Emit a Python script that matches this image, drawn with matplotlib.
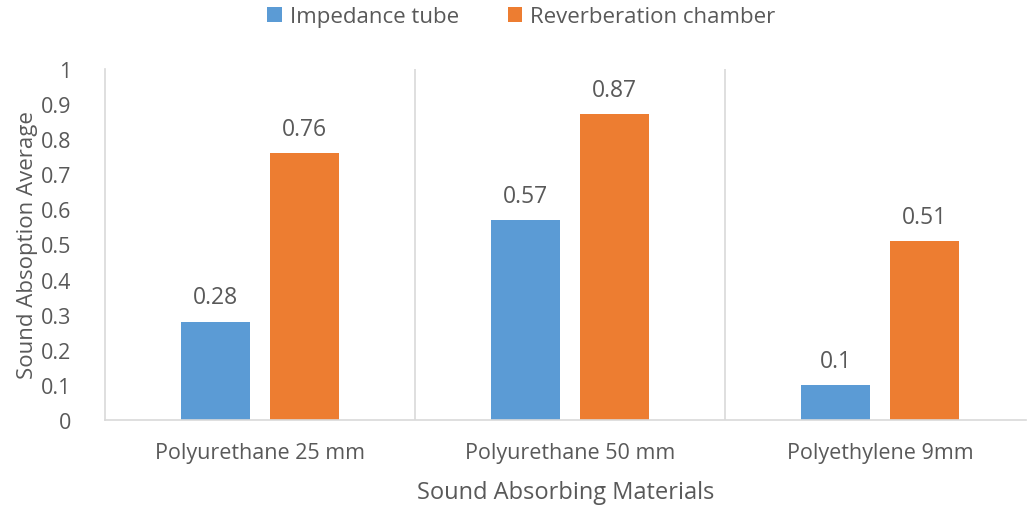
import matplotlib as mpl
mpl.use('Agg')
import matplotlib.pyplot as plt
import numpy as np

materials = ["Polyurethane 25 mm", "Polyurethane 50 mm", "Polyethylene 9mm"]
impedance = [0.28, 0.57, 0.1]
reverb = [0.76, 0.87, 0.51]

plt.rcParams['font.family'] = ['Open Sans', 'DejaVu Sans']
txt = '#595959'
grid = '#D9D9D9'

fig = plt.figure(figsize=(10.28, 5.06), dpi=100)
ax = fig.add_axes([0.102, 0.168, 0.896, 0.694])

x = np.arange(len(materials))
w = 0.222
b1 = ax.bar(x - 0.143, impedance, w, color='#5B9BD5', label='Impedance tube')
b2 = ax.bar(x + 0.143, reverb, w, color='#ED7D31', label='Reverberation chamber')

for bars, vals in ((b1, impedance), (b2, reverb)):
    for bar, v in zip(bars, vals):
        ax.text(bar.get_x() + bar.get_width() / 2, v + 0.035, "{0:g}".format(v),
                ha='center', va='bottom', fontsize=16.5, color=txt)

ax.set_xlim(-0.5, 2.47)
ax.set_ylim(0, 1)
ax.set_yticks(np.arange(0, 1.01, 0.1))
ax.set_yticklabels(["{0:g}".format(round(t, 1)) for t in np.arange(0, 1.01, 0.1)])
ax.set_xticks(x)
ax.set_xticklabels(materials)
for sep in (0.5, 1.5):
    ax.axvline(sep, color=grid, lw=1.2, zorder=0)

for s in ('top', 'right'):
    ax.spines[s].set_visible(False)
for s in ('left', 'bottom'):
    ax.spines[s].set_color(grid)
    ax.spines[s].set_linewidth(1.2)
ax.tick_params(axis='both', length=0, labelsize=15.5, colors=txt)
ax.tick_params(axis='x', pad=16)
ax.tick_params(axis='y', pad=24)

ax.set_xlabel("Sound Absorbing Materials", fontsize=17, color=txt, labelpad=12)
ax.set_ylabel("Sound Absoption Average", fontsize=16, color=txt, labelpad=2)

fig.legend(loc='upper center', bbox_to_anchor=(0.507, 1.025), ncol=2, frameon=False,
           fontsize=16, labelcolor=txt, handlelength=0.65, handleheight=0.65,
           handletextpad=0.35, columnspacing=2.2)

fig.savefig("out.png")
